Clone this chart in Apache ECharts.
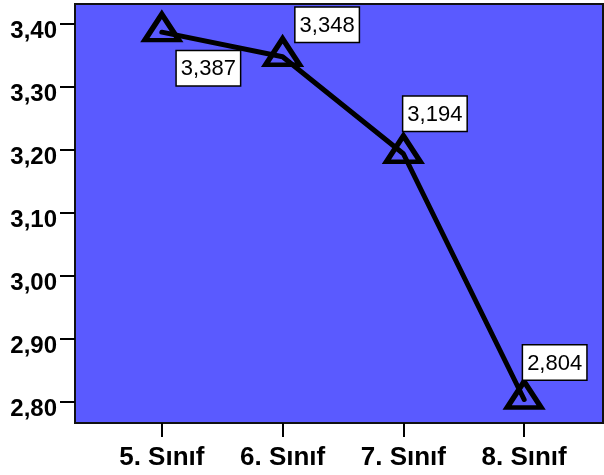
<!DOCTYPE html>
<html><head><meta charset="utf-8">
<script src="https://cdn.jsdelivr.net/npm/echarts@6/dist/echarts.min.js"></script>
<style>html,body{margin:0;padding:0;background:#fff}#c{width:604px;height:475px}</style>
</head><body><div id="c"></div>
<script>
const categories = ['5. Sınıf', '6. Sınıf', '7. Sınıf', '8. Sınıf'];
const values = [3.387, 3.348, 3.194, 2.804];
const labels = ['3,387', '3,348', '3,194', '2,804'];
const yTicks = [2.8, 2.9, 3.0, 3.1, 3.2, 3.3, 3.4];
const xTicks = [0, 1, 2, 3];

const labelPlacement = [
  {align: 'left', verticalAlign: 'top', offset: [15, 24]},
  {align: 'left', verticalAlign: 'bottom', offset: [13, -10]},
  {align: 'left', verticalAlign: 'bottom', offset: [0, -18]},
  {align: 'left', verticalAlign: 'bottom', offset: [-1, -15]}
];

const font = '"Liberation Sans", Arial, sans-serif';
const chart = echarts.init(document.getElementById('c'), null, {renderer: 'canvas'});
chart.setOption({
  animation: false,
  grid: {left: 75, right: 1, top: 4, bottom: 52, show: true,
         backgroundColor: 'rgb(90,90,255)', borderColor: '#111', borderWidth: 2},
  xAxis: {
    type: 'value', min: -0.719, max: 3.653,
    splitLine: {show: false},
    axisLine: {show: true, onZero: false, lineStyle: {color: '#111', width: 2}},
    axisTick: {show: true, length: 14, customValues: xTicks, lineStyle: {color: '#000', width: 2}},
    axisLabel: {customValues: xTicks, margin: 22, fontFamily: font, fontWeight: 'bold', fontSize: 26, color: '#000',
      formatter: v => categories[Math.round(v)]}
  },
  yAxis: {
    type: 'value', min: 2.7667, max: 3.4317,
    splitLine: {show: false},
    axisLine: {show: true, onZero: false, lineStyle: {color: '#111', width: 2}},
    axisTick: {show: true, length: 15, customValues: yTicks, lineStyle: {color: '#000', width: 2}},
    axisLabel: {customValues: yTicks, margin: 18, fontFamily: font, fontWeight: 'bold', fontSize: 24, color: '#000',
      verticalAlign: 'top', lineHeight: 14,
      formatter: v => v.toFixed(2).replace('.', ',')}
  },
  series: [{
    type: 'line',
    data: values.map((v, i) => ({
      value: [i, v],
      label: Object.assign({show: true, position: 'inside', formatter: labels[i]}, labelPlacement[i])
    })),
    lineStyle: {color: '#000', width: 5, cap: 'round'},
    symbol: 'triangle', symbolSize: [34, 26], symbolOffset: [0, -5],
    itemStyle: {color: 'rgba(0,0,0,0)', borderColor: '#000', borderWidth: 5},
    label: {fontFamily: font, fontSize: 22, color: '#000', backgroundColor: '#fff',
            borderColor: '#000', borderWidth: 1.5, padding: [7, 4, 5, 4]},
    z: 3
  }]
});
</script></body></html>
